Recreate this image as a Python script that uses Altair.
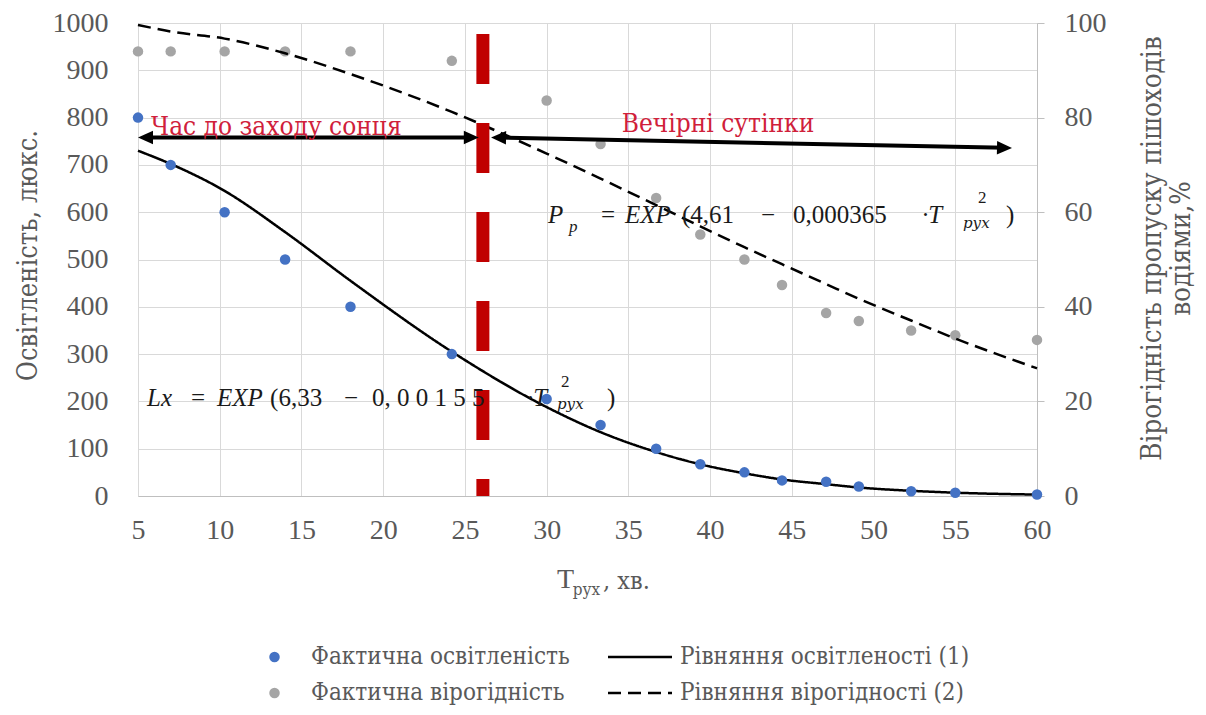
import altair as alt
import pandas as pd

LAT = "Liberation Serif"          # Latin / digits
CYR = "DejaVu Serif"              # Cyrillic serif
CYR_C = "DejaVu Serif Condensed"  # condensed Cyrillic serif

# ---------------- data ----------------
t_min = [5, 7, 10.3, 14, 18, 24.2, 30, 33.3, 36.7, 39.4, 42.1, 44.4, 47.1, 49.1, 52.3, 55, 60]
lux_actual = [800, 700, 600, 500, 400, 300, 205, 150, 100, 67, 50, 33, 30, 20, 10, 7, 3]
prob_actual = [94, 94, 94, 94, 94, 92, 83.6, 74.4, 63, 55.3, 50, 44.6, 38.7, 37, 35, 34, 33]
lux_eq = [730, 702, 645, 558, 455, 305, 188, 135, 93, 67, 48, 35, 25, 18, 11, 7, 3]
prob_eq = [99.6, 98.2, 96.7, 93.6, 89.2, 81.2, 72.4, 67.1, 61.5, 57.0, 52.6, 49.0, 44.8, 41.7, 37.1, 33.3, 27.0]

series_names = ["Фактична освітленість", "Фактична вірогідність"]
eq_names = ["Рівняння освітленості (1)", "Рівняння вірогідності (2)"]

x_ticks = [5, 10, 15, 20, 25, 30, 35, 40, 45, 50, 55, 60]
lux_ticks = [0, 100, 200, 300, 400, 500, 600, 700, 800, 900, 1000]
prob_ticks = [0, 20, 40, 60, 80, 100]

boundary_t = [26.1]
boundary_top = [977]
boundary_bottom = [0]

arrow_t1 = [5.0, 26.6]
arrow_t2 = [25.85, 58.47]
arrow_l1 = [758, 758]
arrow_l2 = [758, 735.8]

red_texts = ["Час до заходу сонця", "Вечірні сутінки"]
red_t = [5.8, 34.6]
red_lux = [781, 787]

eq_it_txt = ["Lx", "EXP", "·T", "P", "EXP", "·T"]
eq_it_t = [5.55, 9.83, 28.8, 30.08, 34.79, 52.97]
eq_it_lux = [208, 208, 208, 594, 594, 594]

eq_rm_txt = ["=", "(6,33", "−", "0, 0 0 1 5 5", ")", "=", "(4,61", "−", "0,000365", ")"]
eq_rm_t = [8.24, 13.08, 17.6, 19.32, 33.69, 33.33, 38.28, 43.12, 45.07, 58.1]
eq_rm_lux = [208, 208, 208, 208, 208, 594, 594, 594, 594, 594]

eq_sup_txt = ["2", "2"]
eq_sup_t = [30.88, 56.39]
eq_sup_lux = [242, 629]

eq_sub_cyr_txt = ["рух", "рух"]
eq_sub_cyr_t = [30.63, 55.47]
eq_sub_cyr_lux = [194, 577]

eq_sub_lat_txt = ["p"]
eq_sub_lat_t = [31.37]
eq_sub_lat_lux = [568]

# ---------------- frames ----------------
df_lux = pd.DataFrame({"t": t_min, "lux": lux_actual, "series": series_names[0]})
df_prob = pd.DataFrame({"t": t_min, "prob": prob_actual, "series": series_names[1]})
df_lux_eq = pd.DataFrame({"t": t_min, "lux": lux_eq, "eq": eq_names[0]})
df_prob_eq = pd.DataFrame({"t": t_min, "prob": prob_eq, "eq": eq_names[1]})
df_bound = pd.DataFrame({"t": boundary_t, "top": boundary_top, "bottom": boundary_bottom})

shaft_rows = []
for a, b, la, lb in zip(arrow_t1, arrow_t2, arrow_l1, arrow_l2):
    k = (lb - la) / (b - a)
    shaft_rows.append({"t": a + 0.4, "t2": b - 0.4, "lux": la + k * 0.4, "lux2": lb - k * 0.4})
df_shaft = pd.DataFrame(shaft_rows)

RIGHT_HEAD = "M0,0 L-1,-0.45 L-1,0.45 Z"
LEFT_HEAD = "M0,0 L1,-0.45 L1,0.45 Z"
df_heads = pd.DataFrame({
    "t": [arrow_t1[0], arrow_t2[0], arrow_t1[1], arrow_t2[1]],
    "lux": [arrow_l1[0], arrow_l2[0], arrow_l1[1], arrow_l2[1]],
    "shape": [LEFT_HEAD, RIGHT_HEAD, LEFT_HEAD, RIGHT_HEAD],
    "ang": [0, 0, 1.15, 1.15],
})

df_red = pd.DataFrame({"txt": red_texts, "t": red_t, "lux": red_lux})
df_it = pd.DataFrame({"txt": eq_it_txt, "t": eq_it_t, "lux": eq_it_lux})
df_rm = pd.DataFrame({"txt": eq_rm_txt, "t": eq_rm_t, "lux": eq_rm_lux})
df_sup = pd.DataFrame({"txt": eq_sup_txt, "t": eq_sup_t, "lux": eq_sup_lux})
df_sub_c = pd.DataFrame({"txt": eq_sub_cyr_txt, "t": eq_sub_cyr_t, "lux": eq_sub_cyr_lux})
df_sub_l = pd.DataFrame({"txt": eq_sub_lat_txt, "t": eq_sub_lat_t, "lux": eq_sub_lat_lux})

df_xt_T = pd.DataFrame({"txt": ["T"], "t": [30.63]})
df_xt_rest = pd.DataFrame({"txt": [", хв."], "t": [33.45]})
df_xt_sub = pd.DataFrame({"txt": ["рух"], "t": [31.6]})

# ---------------- encodings ----------------
X = alt.X("t:Q", scale=alt.Scale(domain=[5, 60], nice=False, zero=False),
          axis=alt.Axis(values=x_ticks, title=None, grid=True, gridColor="#D9D9D9",
                        ticks=False, tickSize=0, domain=True, domainColor="#BFBFBF",
                        labelPadding=20, labelFlush=False, format="d"))

Y_L = alt.Y("lux:Q", scale=alt.Scale(domain=[0, 1000], nice=False),
            axis=alt.Axis(values=lux_ticks, grid=True, gridColor="#D9D9D9", ticks=False, tickSize=0,
                          domain=False, labelPadding=30, format="d", title="Освітленість, люкс.",
                          titleFont=CYR_C, titleFontSize=27,
                          titleAngle=270, titleX=-110, titleY=232,
                          titleBaseline="middle", titleAlign="center"))

Y_R = alt.Y("prob:Q", scale=alt.Scale(domain=[0, 100], nice=False),
            axis=alt.Axis(orient="right", values=prob_ticks, grid=False, ticks=True, tickSize=7,
                          tickColor="#BFBFBF", domain=True, domainColor="#BFBFBF", labelPadding=20,
                          format="d", titleFont=CYR_C, titleFontSize=27.5,
                          title=["Вірогідність пропуску пішоходів", "водіями,%"],
                          titleAngle=270, titleX=115, titleY=225, titleBaseline="middle",
                          titleAlign="center", titleLineHeight=29))

Y_A = alt.Y("lux:Q", scale=alt.Scale(domain=[0, 1000], nice=False), axis=None)

LEG1 = alt.Legend(orient="none", legendX=124.5, legendY=616, title=None, direction="vertical",
                  symbolType="circle", symbolSize=110, symbolStrokeWidth=0, symbolOpacity=1,
                  labelFont=CYR_C, labelFontSize=24, labelColor="#595959", labelOffset=24.5,
                  labelLimit=0, rowPadding=0, clipHeight=36, padding=0)
LEG2 = alt.Legend(orient="none", legendX=468.5, legendY=616, title=None, direction="vertical",
                  symbolType="stroke", symbolSize=4096, symbolStrokeWidth=2.5,
                  symbolStrokeColor="black", labelFont=CYR_C, labelFontSize=24,
                  labelColor="#595959", labelOffset=6.5, labelLimit=0, rowPadding=0,
                  clipHeight=36, padding=0)

COLOR = alt.Color("series:N", scale=alt.Scale(domain=series_names, range=["#4472C4", "#A5A5A5"]),
                  legend=LEG1)
DASH = alt.StrokeDash("eq:N", scale=alt.Scale(domain=eq_names, range=[[1, 0], [13, 7]]), legend=LEG2)

# ---------------- layers ----------------
line_lux = alt.Chart(df_lux_eq).mark_line(color="black", strokeWidth=2.5, interpolate="monotone").encode(
    x=X, y=Y_L, strokeDash=DASH)
pts_lux = alt.Chart(df_lux).mark_circle(size=110, opacity=1).encode(x=X, y=Y_L, color=COLOR)
left = alt.layer(line_lux, pts_lux)

pts_prob = alt.Chart(df_prob).mark_circle(size=110, opacity=1).encode(x=X, y=Y_R, color=COLOR)
line_prob = alt.Chart(df_prob_eq).mark_line(color="black", strokeWidth=2.5, interpolate="monotone").encode(
    x=X, y=Y_R, strokeDash=DASH)
right = alt.layer(pts_prob, line_prob)

bound = alt.Chart(df_bound).mark_rule(color="#C00000", strokeWidth=13, strokeDash=[50, 39]).encode(
    x=X, y=alt.Y("top:Q", scale=alt.Scale(domain=[0, 1000], nice=False), axis=None), y2="bottom:Q")

shafts = alt.Chart(df_shaft).mark_rule(color="black", strokeWidth=4).encode(
    x=X, x2="t2:Q", y=Y_A, y2="lux2:Q")

heads = alt.Chart(df_heads).mark_point(filled=True, color="black", opacity=1, size=900, strokeWidth=0).encode(
    x=X, y=Y_A, shape=alt.Shape("shape:N", scale=None, legend=None),
    angle=alt.Angle("ang:Q", scale=None))

red_txt = alt.Chart(df_red).mark_text(font=CYR_C, fontSize=26, color="#D0203A", align="left",
                                      baseline="middle").encode(x=X, y=Y_A, text="txt:N")

eq_it = alt.Chart(df_it).mark_text(font=LAT, fontSize=25, fontStyle="italic", color="#1A1A1A",
                                   align="left", baseline="middle").encode(x=X, y=Y_A, text="txt:N")
eq_rm = alt.Chart(df_rm).mark_text(font=LAT, fontSize=25, color="#1A1A1A",
                                   align="left", baseline="middle").encode(x=X, y=Y_A, text="txt:N")
eq_sup = alt.Chart(df_sup).mark_text(font=LAT, fontSize=17, color="#1A1A1A",
                                     align="left", baseline="middle").encode(x=X, y=Y_A, text="txt:N")
eq_sub_c = alt.Chart(df_sub_c).mark_text(font=CYR, fontSize=15, fontStyle="italic", color="#1A1A1A",
                                         align="left", baseline="middle").encode(x=X, y=Y_A, text="txt:N")
eq_sub_l = alt.Chart(df_sub_l).mark_text(font=LAT, fontSize=17, fontStyle="italic", color="#1A1A1A",
                                         align="left", baseline="middle").encode(x=X, y=Y_A, text="txt:N")

xt_T = alt.Chart(df_xt_T).mark_text(font=LAT, fontSize=28, color="#595959", align="left",
                                    baseline="middle").encode(x=X, y=alt.value(557), text="txt:N")
xt_rest = alt.Chart(df_xt_rest).mark_text(font=CYR_C, fontSize=25, color="#595959", align="left",
                                          baseline="middle").encode(x=X, y=alt.value(558), text="txt:N")
xt_sub = alt.Chart(df_xt_sub).mark_text(font=CYR_C, fontSize=17, color="#595959", align="left",
                                        baseline="middle").encode(x=X, y=alt.value(567), text="txt:N")

ann = alt.layer(bound, shafts, heads, red_txt, eq_it, eq_rm, eq_sup, eq_sub_c, eq_sub_l,
                xt_T, xt_rest, xt_sub)

chart = alt.layer(left, right, ann).resolve_scale(y="independent").properties(
    width=899, height=473,
    padding={"left": 130, "top": 15, "right": 161, "bottom": 211},
    autosize=alt.AutoSizeParams(type="none"),
).configure_view(strokeWidth=0).configure_axis(
    labelFont=LAT, labelFontSize=28, labelColor="#595959",
    titleColor="#595959", titleFontWeight="normal",
)

chart.save("out.html", embed_options={"renderer": "svg", "actions": False})
